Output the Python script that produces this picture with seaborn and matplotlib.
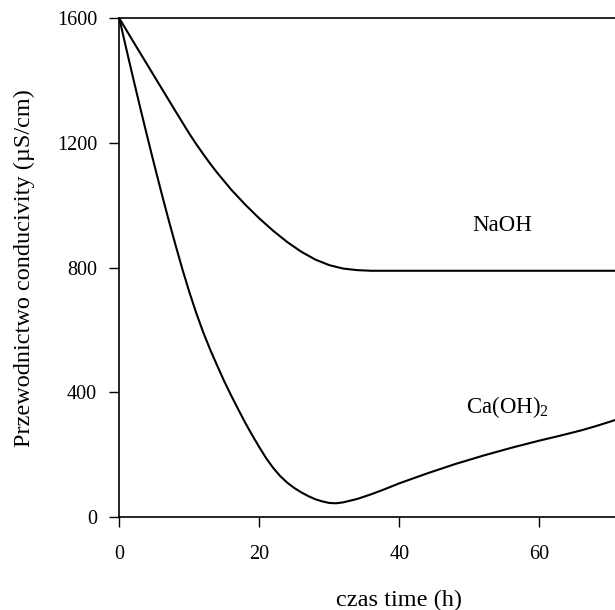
import matplotlib
matplotlib.use("Agg")
import matplotlib.pyplot as plt
import seaborn as sns
import pandas as pd

# --- data ---
naoh_time = [0, 2, 4, 6, 8, 10, 11, 12, 13, 14, 16, 18, 20, 22, 24, 26, 28, 30, 32, 34, 36, 40,
             50, 60, 70, 80]
naoh_cond = [1600, 1525, 1451, 1377, 1303, 1230, 1196, 1164, 1133, 1104, 1050, 1002, 958, 918, 882,
             851, 826, 808, 797, 792, 790, 790, 790, 790, 790, 790]

caoh_time = [0, 1, 2, 3, 4, 5, 6, 7, 8, 9, 10, 11, 12, 13, 14, 15, 16, 17, 18, 19, 20, 21, 22, 23,
             24, 25, 26, 27, 28, 29, 30, 31, 32, 34, 36, 38, 40, 44, 48, 52, 56, 60, 63, 66, 68, 70, 72]
caoh_cond = [1600, 1502, 1406, 1312, 1220, 1130, 1042, 957, 875, 796, 722, 654, 592, 536, 485, 435,
             389, 345, 302, 262, 224, 188, 157, 131, 110, 93, 79, 67, 57, 50, 45, 44, 47, 58, 73, 90,
             108, 140, 170, 197, 222, 245, 261, 278, 291, 305, 320]

series_names = ["NaOH", "Ca(OH)$_2$"]
x_ticks = [0, 20, 40, 60]
y_ticks = [0, 400, 800, 1200, 1600]
x_label = "czas time (h)"
y_label = "Przewodnictwo conducivity (µS/cm)"

df = pd.concat([
    pd.DataFrame({"time": naoh_time, "cond": naoh_cond, "series": series_names[0]}),
    pd.DataFrame({"time": caoh_time, "cond": caoh_cond, "series": series_names[1]}),
])

sns.set_theme(style="white")
plt.rcParams["font.family"] = ["Liberation Serif", "DejaVu Serif"]
plt.rcParams["mathtext.fontset"] = "custom"
plt.rcParams["mathtext.rm"] = "Liberation Serif"
plt.rcParams["mathtext.it"] = "Liberation Serif:italic"

fig = plt.figure(figsize=(6.15, 6.10), dpi=100)
# axes extends beyond the right edge (reference is cropped)
ax = fig.add_axes([119.3 / 615, 1 - 517 / 610, 560 / 615, (517 - 18.3) / 610])

sns.lineplot(data=df, x="time", y="cond", hue="series", sort=False,
             palette=["black", "black"], linewidth=1.5, legend=False, ax=ax)

ax.set_xlim(0, 80)
ax.set_ylim(0, 1600)
ax.set_xticks(x_ticks)
ax.set_yticks(y_ticks)
ax.tick_params(axis="both", direction="out", length=7, width=1.0, color="black",
               labelsize=14.5, labelcolor="black", pad=9, bottom=True, left=True)
ax.tick_params(axis="x", pad=13)

for side in ["left", "bottom", "top"]:
    ax.spines[side].set_visible(True)
    ax.spines[side].set_color("black")
    ax.spines[side].set_linewidth(1.2)
ax.spines["right"].set_visible(False)

ax.set_xlabel(x_label, fontsize=17.5, color="black", labelpad=19)
ax.set_ylabel(y_label, fontsize=17.5, color="black", labelpad=16)

ax.text(54.7, 934, series_names[0], fontsize=16.5, ha="center", va="center", color="black")
ax.text(55.4, 353, series_names[1], fontsize=16.5, ha="center", va="center", color="black")

fig.savefig("out.png", dpi=100)
